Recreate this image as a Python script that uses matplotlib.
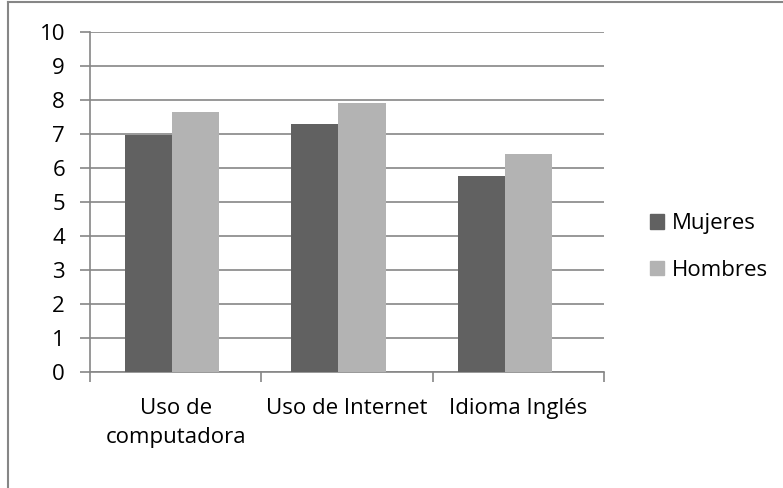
import matplotlib.pyplot as plt
import matplotlib.patches as mpatches
import numpy as np

categories = ["Uso de\ncomputadora", "Uso de Internet", "Idioma Inglés"]
mujeres = [6.96, 7.28, 5.76]
hombres = [7.66, 7.91, 6.41]
series_names = ["Mujeres", "Hombres"]

plt.rcParams['font.family'] = ['Open Sans', 'DejaVu Sans']

grid_col = "#868686"
c_muj = "#616161"
c_hom = "#b3b3b3"
fs = 16

fig = plt.figure(figsize=(7.83, 4.88), dpi=100)
ax = fig.add_axes([90 / 783, 1 - 372 / 488, (604 - 90) / 783, (372 - 32) / 488])

# chart frame: only top and left edges are visible in the original
fig.add_artist(plt.Line2D([8 / 783, 8 / 783], [0, 1 - 2 / 488],
                          transform=fig.transFigure, color=grid_col, lw=1.5))
fig.add_artist(plt.Line2D([8 / 783, 1], [1 - 2 / 488, 1 - 2 / 488],
                          transform=fig.transFigure, color=grid_col, lw=1.5))

x = np.arange(len(categories))
# bar groups sit slightly left of the category centres in the original
xb = x * 0.97 - 0.02
w = 0.275
ax.bar(xb - w / 2, mujeres, w, color=c_muj, label=series_names[0], zorder=3)
ax.bar(xb + w / 2, hombres, w, color=c_hom, label=series_names[1], zorder=3)

ax.set_xlim(-0.5, len(categories) - 0.5)
ax.set_ylim(0, 10)
ax.set_yticks(range(0, 11))
ax.yaxis.grid(True, color=grid_col, lw=1.2, zorder=0)
ax.set_axisbelow(True)

for s in ["top", "right"]:
    ax.spines[s].set_visible(False)
for s in ["left", "bottom"]:
    ax.spines[s].set_color(grid_col)
    ax.spines[s].set_linewidth(1.2)

ax.set_xticks(x)
ax.set_xticklabels(categories, fontsize=fs, linespacing=1.45)
ax.set_xticks(np.arange(-0.5, len(categories)), minor=True)
ax.tick_params(axis="x", which="major", length=0, pad=19)
ax.tick_params(axis="x", which="minor", length=7, color=grid_col, width=1.2)
ax.tick_params(axis="y", length=7, color=grid_col, width=1.2, labelsize=fs, pad=11)

handles = [mpatches.Patch(color=c_muj, label=series_names[0]),
           mpatches.Patch(color=c_hom, label=series_names[1])]
fig.legend(handles=handles, loc="center left", bbox_to_anchor=(641 / 783, 1 - 247 / 488),
           frameon=False, fontsize=fs, handlelength=0.65, handleheight=0.65,
           handletextpad=0.35, labelspacing=1.15, borderaxespad=0)

fig.savefig("out.png", dpi=100)
